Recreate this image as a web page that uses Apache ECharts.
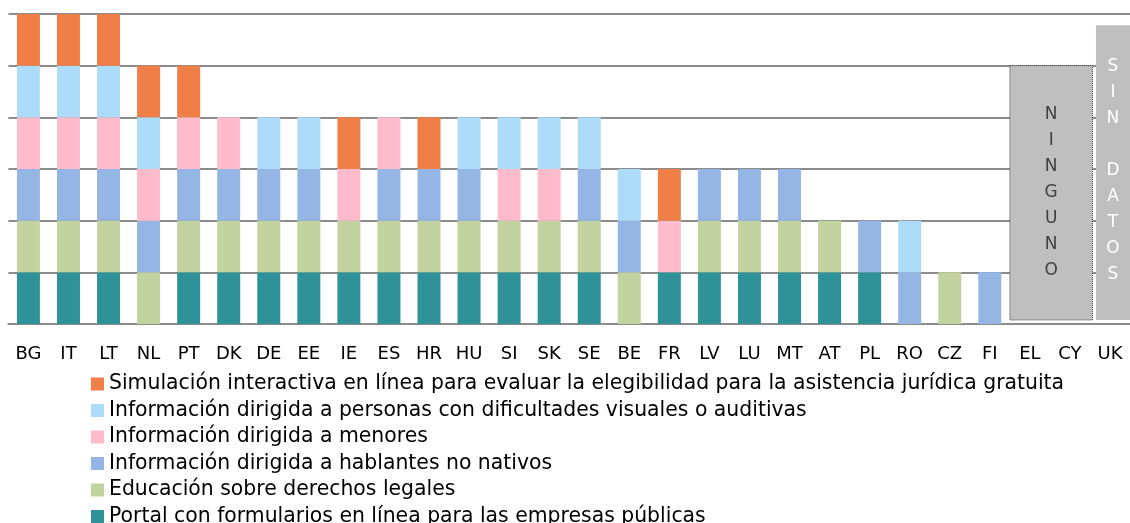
<!DOCTYPE html>
<html>
<head>
<meta charset="utf-8">
<script src="https://cdn.jsdelivr.net/npm/echarts@6/dist/echarts.min.js"></script>
<style>
  html, body { margin: 0; padding: 0; background: #fff; }
  #chart { width: 1130px; height: 523px; }
</style>
</head>
<body>
<div id="chart"></div>
<script>
var countries = ['BG','IT','LT','NL','PT','DK','DE','EE','IE','ES','HR','HU','SI','SK','SE','BE','FR','LV','LU','MT','AT','PL','RO','CZ','FI','EL','CY','UK'];

// 1 = el país ofrece el servicio (de abajo arriba en la pila)
var portal      = [1,1,1,0,1,1,1,1,1,1,1,1,1,1,1,0,1,1,1,1,1,1,0,0,0,0,0,0];
var educacion   = [1,1,1,1,1,1,1,1,1,1,1,1,1,1,1,1,0,1,1,1,1,0,0,1,0,0,0,0];
var hablantes   = [1,1,1,1,1,1,1,1,0,1,1,1,0,0,1,1,0,1,1,1,0,1,1,0,1,0,0,0];
var menores     = [1,1,1,1,1,1,0,0,1,1,0,0,1,1,0,0,1,0,0,0,0,0,0,0,0,0,0,0];
var visuales    = [1,1,1,1,0,0,1,1,0,0,0,1,1,1,1,1,0,0,0,0,0,0,1,0,0,0,0,0];
var simulacion  = [1,1,1,1,1,0,0,0,1,0,1,0,0,0,0,0,1,0,0,0,0,0,0,0,0,0,0,0];

// cajas grises: [desde, hasta, altura, texto]
var notas = [
  ['EL', 'CY', 5, 'NINGUNO'],
  ['UK', 'UK', 5.78, 'SIN DATOS']
];

var names = [
  'Portal con formularios en línea para las empresas públicas',
  'Educación sobre derechos legales',
  'Información dirigida a hablantes no nativos',
  'Información dirigida a menores',
  'Información dirigida a personas con dificultades visuales o auditivas',
  'Simulación interactiva en línea para evaluar la elegibilidad para la asistencia jurídica gratuita'
];
var colors = ['#2e9298', '#c3d39f', '#95b6e5', '#ffbbcb', '#addcfb', '#f07f47'];
var values = [portal, educacion, hablantes, menores, visuales, simulacion];

var FONT = 'DejaVu Sans';

var series = values.map(function (v, i) {
  return {
    name: names[i],
    type: 'bar',
    stack: 'total',
    barWidth: 23,
    itemStyle: { color: colors[i] },
    data: v.map(function (x) { return x === 0 ? null : x; })
  };
});

series.push({
  type: 'custom',
  silent: true,
  data: notas.map(function (n) {
    return [countries.indexOf(n[0]), countries.indexOf(n[1]), n[2]];
  }),
  renderItem: function (params, api) {
    var bw = api.size([1, 0])[0];
    var p0 = api.coord([api.value(0), 0]);
    var p1 = api.coord([api.value(1), api.value(2)]);
    var text = notas[params.dataIndex][3];
    var single = api.value(0) === api.value(1);
    var x0 = p0[0] - bw / 2 + (single ? 6 : 0);
    var x1 = p1[0] + bw / 2 + (single ? 0 : 2.5);
    var y0 = p1[1];
    var y1 = p0[1] - 4;
    var letters = text.split('').join('\n');
    return {
      type: 'group',
      children: [{
        type: 'rect',
        shape: { x: x0, y: y0, width: x1 - x0, height: y1 - y0 },
        style: single ? { fill: '#bfbfbf' } : { fill: '#bfbfbf', stroke: '#404040', lineWidth: 1, lineDash: [1, 1] }
      }, {
        type: 'text',
        style: {
          text: letters,
          x: (x0 + x1) / 2,
          y: (y0 + y1) / 2 + (single ? -2 : 0),
          align: 'center',
          verticalAlign: 'middle',
          fill: single ? '#ffffff' : '#404040',
          fontFamily: FONT,
          fontSize: 17,
          lineHeight: 26
        }
      }]
    };
  },
  z: 5
});

var chart = echarts.init(document.getElementById('chart'));
chart.setOption({
  animation: false,
  grid: { left: 8.4, right: -3.7, top: 14, bottom: 199 },
  xAxis: {
    type: 'category',
    data: countries,
    axisLine: { show: true, lineStyle: { color: '#8c8c8c', width: 2 } },
    axisTick: { show: false },
    axisLabel: { color: '#000', fontSize: 18, fontFamily: FONT, margin: 21, interval: 0 }
  },
  yAxis: {
    type: 'value',
    min: 0,
    max: 6,
    interval: 1,
    axisLabel: { show: false },
    axisLine: { show: false },
    axisTick: { show: false },
    splitLine: { lineStyle: { color: '#8c8c8c', width: 2 } }
  },
  legend: {
    orient: 'vertical',
    left: 86,
    top: 369,
    height: 160,
    itemWidth: 13,
    itemHeight: 13,
    itemGap: 6.5,
    icon: 'rect',
    selectedMode: false,
    data: names.slice().reverse(),
    textStyle: { color: '#000', fontSize: 20.4, fontFamily: FONT, lineHeight: 20 }
  },
  series: series
});
</script>
</body>
</html>
